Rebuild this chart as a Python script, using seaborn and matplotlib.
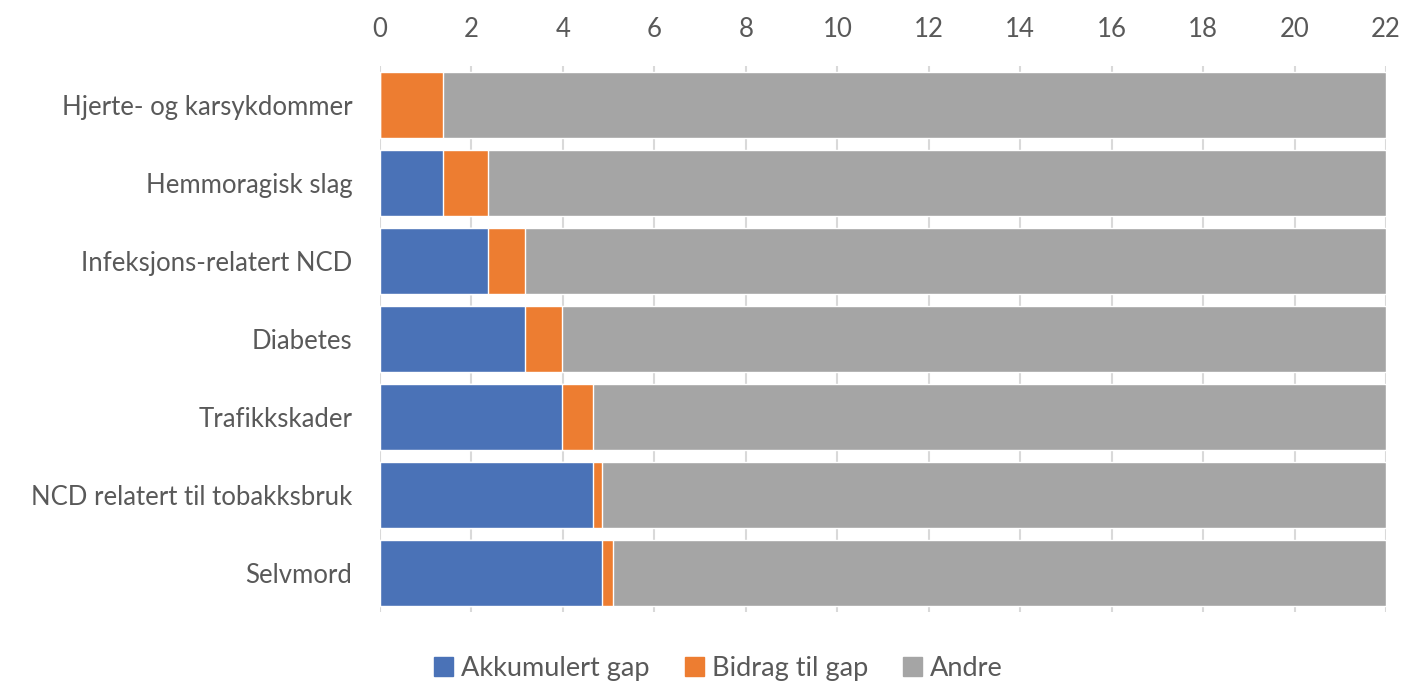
import matplotlib
matplotlib.use("Agg")
import matplotlib.pyplot as plt
from matplotlib.patches import Patch
import seaborn as sns
import pandas as pd

categories = ["Hjerte- og karsykdommer", "Hemmoragisk slag", "Infeksjons-relatert NCD",
              "Diabetes", "Trafikkskader", "NCD relatert til tobakksbruk", "Selvmord"]
akkumulert = [0.0, 1.37, 2.35, 3.18, 3.97, 4.66, 4.85]
bidrag = [1.37, 0.98, 0.83, 0.79, 0.69, 0.19, 0.24]
andre = [20.63, 19.65, 18.82, 18.03, 17.34, 17.15, 16.91]
xticks = list(range(0, 23, 2))

c_blue, c_orange, c_grey = "#4a72b7", "#ed7d31", "#a5a5a5"

sns.set_theme(style="white")
plt.rcParams['font.family'] = ['Lato', 'DejaVu Sans']

df = pd.DataFrame({"kat": categories, "a": akkumulert, "b": bidrag, "c": andre})
df["ab"] = df["a"] + df["b"]
df["abc"] = df["ab"] + df["c"]

fig = plt.figure(figsize=(14.06, 6.85), dpi=100)
ax = fig.add_axes([0.2703, 0.1066, 0.7155, 0.797])

kw = dict(orient="h", width=0.84, edgecolor="white", linewidth=1, ax=ax, saturation=1, zorder=2)
sns.barplot(data=df, x="abc", y="kat", color=c_grey, **kw)
sns.barplot(data=df, x="ab", y="kat", color=c_orange, **kw)
sns.barplot(data=df, x="a", y="kat", color=c_blue, **kw)

ax.set_xlim(0, 22)
ax.set_ylim(6.5, -0.5)
ax.set_xticks(xticks)
ax.xaxis.tick_top()
ax.set_xlabel("")
ax.set_ylabel("")
ax.tick_params(axis="x", labelsize=18.5, colors="#595959", length=0, pad=17)
ax.tick_params(axis="y", labelsize=18.5, colors="#595959", length=0, pad=20)
ax.grid(axis="x", color="#d9d9d9", linewidth=1.5, zorder=0)
ax.set_axisbelow(True)
for s in ax.spines.values():
    s.set_visible(False)

handles = [Patch(color=c_blue, label="Akkumulert gap"),
           Patch(color=c_orange, label="Bidrag til gap"),
           Patch(color=c_grey, label="Andre")]
fig.legend(handles=handles, loc="lower center", bbox_to_anchor=(0.511, -0.03), ncol=3,
           frameon=False, fontsize=19.5, handlelength=0.7, handleheight=0.7,
           handletextpad=0.3, columnspacing=1.3, labelcolor="#595959")

fig.savefig("out.png", dpi=100)
